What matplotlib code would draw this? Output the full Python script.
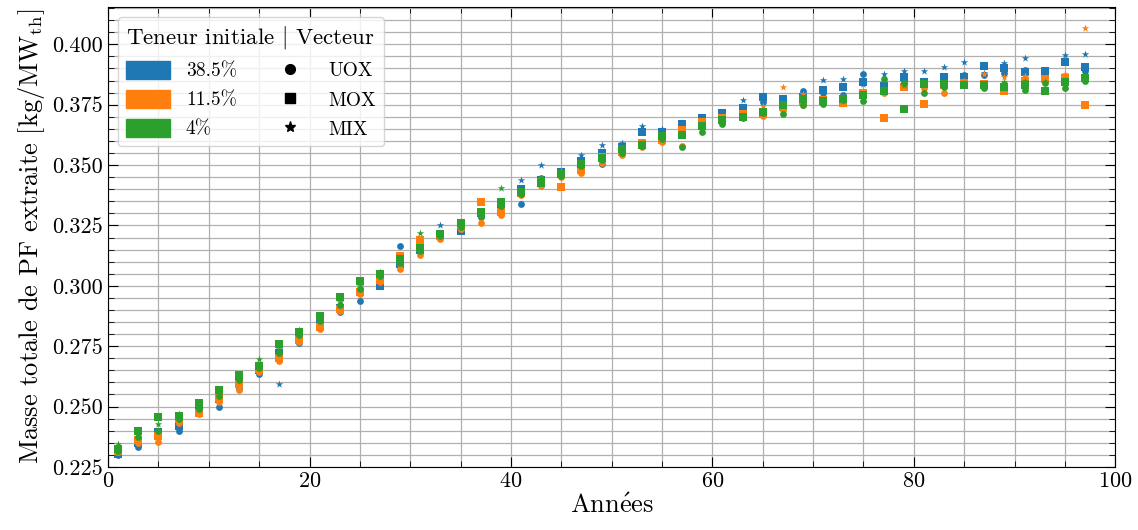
import matplotlib
matplotlib.use("Agg")
import matplotlib.pyplot as plt
from matplotlib.patches import Patch
from matplotlib.lines import Line2D
from matplotlib.ticker import MultipleLocator, FormatStrFormatter

plt.rcParams['font.family'] = ['cmr10', 'DejaVu Serif']
plt.rcParams['mathtext.fontset'] = 'cm'
plt.rcParams['axes.formatter.use_mathtext'] = True

years = list(range(1, 98, 2))

# teneur 38.5 %
b_uox = [0.2300, 0.2332, 0.2385, 0.2397, 0.2475, 0.2497, 0.2575, 0.2635, 0.2710, 0.2765,
         0.2825, 0.2890, 0.2936, 0.3010, 0.3165, 0.3140, 0.3200, 0.3240, 0.3285, 0.3320,
         0.3340, 0.3425, 0.3460, 0.3490, 0.3505, 0.3565, 0.3590, 0.3625, 0.3640, 0.3680,
         0.3700, 0.3725, 0.3760, 0.3765, 0.3806, 0.3800, 0.3790, 0.3879, 0.3815, 0.3845,
         0.3835, 0.3860, 0.3875, 0.3875, 0.3880, 0.3895, 0.3875, 0.3855, 0.3890]
b_mox = [0.2303, 0.2350, 0.2395, 0.2418, 0.2485, 0.2530, 0.2600, 0.2650, 0.2720, 0.2780,
         0.2840, 0.2910, 0.2975, 0.2998, 0.3090, 0.3150, 0.3210, 0.3225, 0.3300, 0.3330,
         0.3400, 0.3440, 0.3470, 0.3515, 0.3550, 0.3575, 0.3636, 0.3635, 0.3668, 0.3695,
         0.3717, 0.3737, 0.3780, 0.3775, 0.3780, 0.3809, 0.3822, 0.3842, 0.3827, 0.3863,
         0.3842, 0.3865, 0.3865, 0.3912, 0.3900, 0.3885, 0.3888, 0.3928, 0.3905]
b_mix = [0.2310, 0.2355, 0.2390, 0.2425, 0.2490, 0.2535, 0.2605, 0.2655, 0.2594, 0.2790,
         0.2850, 0.2915, 0.2985, 0.3020, 0.3085, 0.3160, 0.3250, 0.3245, 0.3305, 0.3325,
         0.3440, 0.3500, 0.3475, 0.3543, 0.3585, 0.3590, 0.3660, 0.3650, 0.3655, 0.3690,
         0.3710, 0.3771, 0.3775, 0.3770, 0.3785, 0.3853, 0.3856, 0.3835, 0.3879, 0.3890,
         0.3890, 0.3905, 0.3926, 0.3880, 0.3923, 0.3942, 0.3870, 0.3956, 0.3960]

# teneur 11.5 %
o_uox = [0.2310, 0.2350, 0.2352, 0.2430, 0.2468, 0.2520, 0.2570, 0.2645, 0.2688, 0.2768,
         0.2822, 0.2895, 0.2965, 0.3015, 0.3070, 0.3128, 0.3195, 0.3235, 0.3262, 0.3292,
         0.3375, 0.3415, 0.3450, 0.3468, 0.3510, 0.3540, 0.3575, 0.3595, 0.3578, 0.3660,
         0.3680, 0.3700, 0.3705, 0.3730, 0.3750, 0.3760, 0.3765, 0.3790, 0.3800, 0.3830,
         0.3820, 0.3800, 0.3845, 0.3830, 0.3830, 0.3860, 0.3850, 0.3850, 0.3860]
o_mox = [0.2315, 0.2360, 0.2380, 0.2450, 0.2475, 0.2535, 0.2595, 0.2655, 0.2700, 0.2775,
         0.2830, 0.2905, 0.2975, 0.3025, 0.3125, 0.3188, 0.3205, 0.3250, 0.3345, 0.3305,
         0.3385, 0.3430, 0.3408, 0.3480, 0.3535, 0.3555, 0.3590, 0.3605, 0.3645, 0.3680,
         0.3695, 0.3710, 0.3710, 0.3740, 0.3760, 0.3770, 0.3755, 0.3800, 0.3695, 0.3825,
         0.3754, 0.3830, 0.3840, 0.3835, 0.3808, 0.3850, 0.3855, 0.3860, 0.3750]
o_mix = [0.2312, 0.2358, 0.2390, 0.2445, 0.2480, 0.2540, 0.2600, 0.2660, 0.2705, 0.2785,
         0.2845, 0.2915, 0.2990, 0.3030, 0.3080, 0.3140, 0.3200, 0.3268, 0.3280, 0.3315,
         0.3380, 0.3420, 0.3477, 0.3490, 0.3525, 0.3560, 0.3595, 0.3615, 0.3635, 0.3675,
         0.3700, 0.3715, 0.3745, 0.3824, 0.3795, 0.3775, 0.3785, 0.3805, 0.3810, 0.3835,
         0.3830, 0.3840, 0.3850, 0.3877, 0.3864, 0.3870, 0.3860, 0.3877, 0.4066]

# teneur 4 %
g_uox = [0.2318, 0.2372, 0.2400, 0.2450, 0.2488, 0.2545, 0.2610, 0.2660, 0.2722, 0.2795,
         0.2855, 0.2920, 0.2985, 0.3040, 0.3095, 0.3145, 0.3205, 0.3245, 0.3290, 0.3330,
         0.3380, 0.3445, 0.3455, 0.3495, 0.3520, 0.3550, 0.3580, 0.3610, 0.3575, 0.3637,
         0.3670, 0.3695, 0.3715, 0.3712, 0.3747, 0.3752, 0.3770, 0.3765, 0.3856, 0.3840,
         0.3800, 0.3825, 0.3835, 0.3820, 0.3835, 0.3810, 0.3840, 0.3818, 0.3850]
g_mox = [0.2325, 0.2398, 0.2455, 0.2460, 0.2515, 0.2568, 0.2632, 0.2670, 0.2760, 0.2810,
         0.2875, 0.2955, 0.3018, 0.3050, 0.3110, 0.3155, 0.3215, 0.3260, 0.3305, 0.3345,
         0.3390, 0.3425, 0.3465, 0.3505, 0.3530, 0.3565, 0.3585, 0.3620, 0.3626, 0.3660,
         0.3685, 0.3700, 0.3720, 0.3750, 0.3775, 0.3765, 0.3775, 0.3790, 0.3805, 0.3733,
         0.3835, 0.3835, 0.3830, 0.3830, 0.3825, 0.3830, 0.3808, 0.3845, 0.3860]
g_mix = [0.2345, 0.2385, 0.2428, 0.2468, 0.2505, 0.2560, 0.2625, 0.2698, 0.2740, 0.2818,
         0.2870, 0.2935, 0.3000, 0.3056, 0.3100, 0.3220, 0.3210, 0.3255, 0.3295, 0.3403,
         0.3385, 0.3435, 0.3460, 0.3500, 0.3528, 0.3570, 0.3590, 0.3625, 0.3630, 0.3665,
         0.3680, 0.3705, 0.3725, 0.3745, 0.3770, 0.3760, 0.3785, 0.3785, 0.3815, 0.3830,
         0.3840, 0.3845, 0.3840, 0.3825, 0.3845, 0.3850, 0.3845, 0.3853, 0.3865]

teneurs = ['38.5%', '11.5%', '4%']
vecteurs = ['UOX', 'MOX', 'MIX']
colors = ['#1f77b4', '#ff7f0e', '#2ca02c']
markers = ['o', 's', '*']
sizes = [24, 26, 32]
data = [[b_uox, b_mox, b_mix], [o_uox, o_mox, o_mix], [g_uox, g_mox, g_mix]]

fig = plt.figure(figsize=(11.38, 5.30), dpi=100)
ax = fig.add_axes([0.095, 0.119, 0.885, 0.868])

for c, series in zip(colors, data):
    for m, s, vals in zip(markers, sizes, series):
        ax.scatter(years, vals, color=c, marker=m, s=s, linewidths=0, zorder=3)

ax.set_xlim(0, 100)
ax.set_ylim(0.225, 0.4155)
ax.xaxis.set_major_locator(MultipleLocator(20))
ax.xaxis.set_minor_locator(MultipleLocator(5))
ax.yaxis.set_major_locator(MultipleLocator(0.025))
ax.yaxis.set_minor_locator(MultipleLocator(0.005))
ax.yaxis.set_major_formatter(FormatStrFormatter('%.3f'))
ax.grid(which='both', color='#b0b0b0', lw=0.9, zorder=0)
ax.set_axisbelow(True)
ax.tick_params(which='both', direction='in', top=True, right=True, labelsize=16)
ax.tick_params(which='major', length=7)
ax.tick_params(which='minor', length=4)

ax.set_xlabel(r'Ann$\acute{\mathrm{e}}$es', fontsize=19, labelpad=2)
ax.set_ylabel(r'Masse totale de PF extraite [kg/MW$_\mathrm{th}$]', fontsize=19)

handles = [Patch(color=c, label=t) for c, t in zip(colors, teneurs)]
handles += [Line2D([], [], color='k', marker=m, ls='none', markersize=7 if m != '*' else 8, label=v)
            for m, v in zip(markers, vecteurs)]
ax.legend(handles=handles, ncol=2, loc='upper left', title=r'Teneur initiale $|$ Vecteur',
          fontsize=14, title_fontsize=16.5, handlelength=2.3, handleheight=1.0,
          columnspacing=1.6, framealpha=0.8)

fig.savefig('out.png', dpi=100)
